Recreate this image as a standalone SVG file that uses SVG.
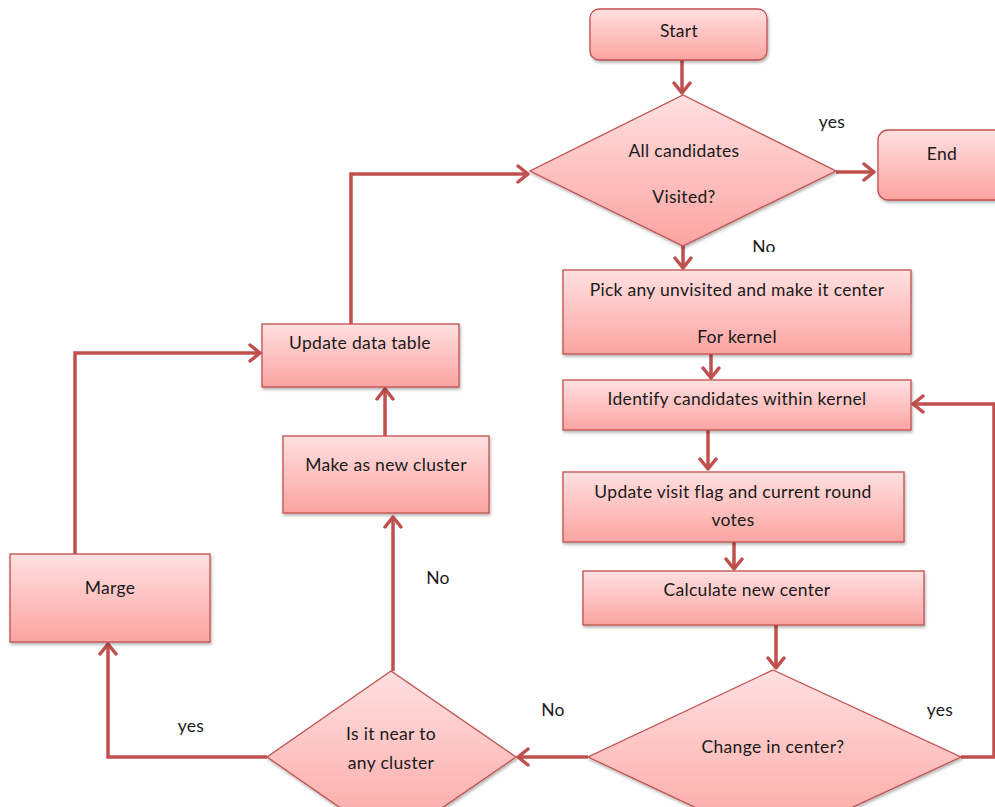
<svg xmlns="http://www.w3.org/2000/svg" width="995" height="807" viewBox="0 0 995 807">
  <defs>
    <linearGradient id="pink" x1="0" y1="0" x2="0" y2="1">
      <stop offset="0" stop-color="#ffe0e0"/>
      <stop offset="1" stop-color="#fba4a2"/>
    </linearGradient>
    <filter id="shadow" x="-10%" y="-10%" width="125%" height="130%">
      <feDropShadow dx="1" dy="2" stdDeviation="1.5" flood-color="#000" flood-opacity="0.3"/>
    </filter>
    <marker id="arrow" markerUnits="userSpaceOnUse" markerWidth="16" markerHeight="20" viewBox="0 0 16 20" refX="13" refY="10" orient="auto">
      <path d="M3,2 L13,10 L3,18" fill="none" stroke="#c0504d" stroke-width="3.5" stroke-linecap="round" stroke-linejoin="round"/>
    </marker>
    <!-- text boxes that crop the lower edge of their text -->
    <clipPath id="clipVisited"><rect x="600" y="180" width="160" height="23"/></clipPath>
    <clipPath id="clipNo"><rect x="740" y="230" width="60" height="22"/></clipPath>
  </defs>
  <style>
    .box { fill: url(#pink); stroke: #c0504d; stroke-width: 1.3; filter: url(#shadow); }
    .conn { fill: none; stroke: #c0504d; stroke-width: 3.5; stroke-linejoin: miter; }
    .arr { marker-end: url(#arrow); }
    text { font-family: Lato, "Open Sans", "Liberation Sans", sans-serif; font-size: 17.5px; letter-spacing: 0.3px; fill: #1a1a1a; text-anchor: middle; dominant-baseline: middle; }
  </style>

  <rect width="995" height="807" fill="#ffffff"/>

  <!-- connectors -->
  <g id="connectors">
    <path class="conn arr" d="M682,60 L682,93"/>
    <path class="conn arr" d="M836,172 L874,172"/>
    <path class="conn arr" d="M683,245 L683,268"/>
    <path class="conn arr" d="M711,354 L711,378"/>
    <path class="conn arr" d="M708,430 L708,469"/>
    <path class="conn arr" d="M734,542 L734,569"/>
    <path class="conn arr" d="M776,625 L776,668"/>
    <path class="conn arr" d="M961,757 L994,757 L994,404 L913,404"/>
    <path class="conn arr" d="M588,757 L518,757"/>
    <path class="conn arr" d="M267,757 L108,757 L108,644"/>
    <path class="conn arr" d="M393,671 L393,517"/>
    <path class="conn arr" d="M385,436 L385,389"/>
    <path class="conn arr" d="M351,324 L351,174 L528,174"/>
    <path class="conn arr" d="M75,554 L75,353 L260,353"/>
  </g>

  <g id="start">
    <rect class="box" x="590" y="9" width="177" height="51" rx="9"/>
    <text x="679" y="33">Start</text>
  </g>

  <g id="all-visited">
    <polygon class="box" points="683,95 836,171 683,246 530,171"/>
    <text x="684" y="153">All candidates</text>
    <text x="684" y="199" clip-path="url(#clipVisited)">Visited?</text>
  </g>

  <g id="end">
    <rect class="box" x="878" y="130" width="130" height="70" rx="10"/>
    <text x="942" y="156">End</text>
  </g>

  <g id="pick">
    <rect class="box" x="563" y="270" width="348" height="84"/>
    <text x="737" y="292">Pick any unvisited and make it center</text>
    <text x="737" y="339">For kernel</text>
  </g>

  <g id="identify">
    <rect class="box" x="563" y="380" width="348" height="50"/>
    <text x="737" y="401">Identify candidates within kernel</text>
  </g>

  <g id="update-visit">
    <rect class="box" x="563" y="472" width="341" height="70"/>
    <text x="733" y="494">Update visit flag and current round</text>
    <text x="733" y="522">votes</text>
  </g>

  <g id="calculate">
    <rect class="box" x="583" y="571" width="341" height="54"/>
    <text x="747" y="592">Calculate new center</text>
  </g>

  <g id="change-center">
    <polygon class="box" points="773,670 961,757 773,844 588,757"/>
    <text x="773" y="749">Change in center?</text>
  </g>

  <g id="near-cluster">
    <polygon class="box" points="391,671 516,757 391,843 267,757"/>
    <text x="391" y="736">Is it near to</text>
    <text x="391" y="765">any cluster</text>
  </g>

  <g id="make-new">
    <rect class="box" x="283" y="436" width="206" height="77"/>
    <text x="386" y="467">Make as new cluster</text>
  </g>

  <g id="update-table">
    <rect class="box" x="262" y="324" width="197" height="63"/>
    <text x="360" y="345">Update data table</text>
  </g>

  <g id="marge">
    <rect class="box" x="10" y="554" width="200" height="88"/>
    <text x="110" y="590">Marge</text>
  </g>

  <!-- branch labels -->
  <g id="labels">
    <text x="832" y="124">yes</text>
    <text x="764" y="249" clip-path="url(#clipNo)">No</text>
    <text x="553" y="712">No</text>
    <text x="940" y="712">yes</text>
    <text x="191" y="728">yes</text>
    <text x="438" y="580">No</text>
  </g>
</svg>
